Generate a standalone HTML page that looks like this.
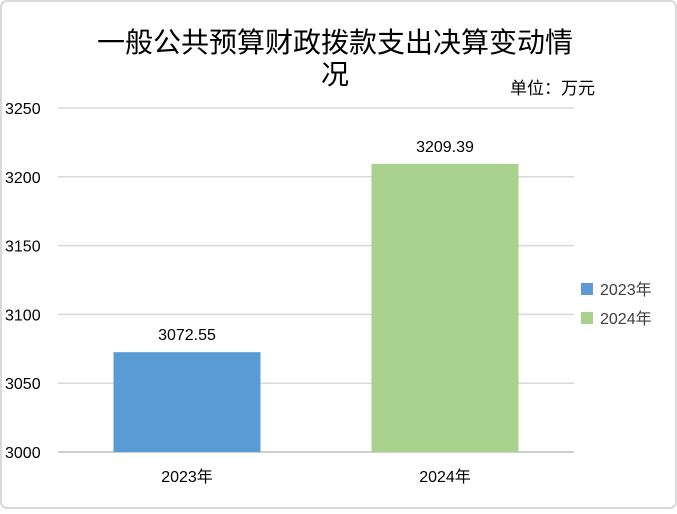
<!DOCTYPE html>
<html><head><meta charset="utf-8"><style>
body{margin:0;background:#fff;}
svg text{font-family:"Liberation Sans","Noto Sans CJK SC",sans-serif;}
</style></head><body>
<svg width="677" height="509" xmlns="http://www.w3.org/2000/svg">
<rect x="1" y="1" width="675" height="507" rx="6" fill="#fff" stroke="#d9d9d9" stroke-width="2"/>
<text x="335" y="52" font-size="28" text-anchor="middle" fill="#000">一般公共预算财政拨款支出决算变动情</text>
<text x="335" y="84" font-size="28" text-anchor="middle" fill="#000">况</text>
<text x="510" y="94" font-size="17" fill="#000">单位：万元</text>
<g id="grid"></g><g id="bars"></g>
<g>
<rect x="581" y="283" width="12" height="12" fill="#5b9bd5"/>
<text x="600" y="295" font-size="16" fill="#404040">2023年</text>
<rect x="581" y="312" width="12" height="12" fill="#a9d18e"/>
<text x="600" y="324" font-size="16" fill="#404040">2024年</text>
</g>
</svg>
<script>
const categories=["2023年","2024年"];
const values=[3072.55,3209.39];
const labels=["3072.55","3209.39"];
const ticks=[3000,3050,3100,3150,3200,3250];
const colors=["#5b9bd5","#a9d18e"];
const NS="http://www.w3.org/2000/svg";
const x0=58,x1=574,yTop=108,yBot=452,vmin=3000,vmax=3250;
const y=v=>yBot-(v-vmin)/(vmax-vmin)*(yBot-yTop);
const band=(x1-x0)/categories.length, bw=147;
const g=document.getElementById('grid'), b=document.getElementById('bars');
function mk(tag,attrs,parent,text){const e=document.createElementNS(NS,tag);for(const k in attrs)e.setAttribute(k,attrs[k]);if(text!==undefined)e.textContent=text;parent.appendChild(e);return e;}
ticks.forEach(t=>{
 const l=mk('line',{x1:x0,x2:x1,y1:y(t),y2:y(t),stroke:t===vmin?'#bfbfbf':'#d9d9d9','stroke-width':1.5},g);
 
 
 const tx=mk('text',{x:5,y:y(t)+6,'font-size':16,fill:'#000'},g,String(t));
 
 
});
categories.forEach((c,i)=>{
 const cx=x0+band*(i+0.5);
 const r=mk('rect',{x:cx-bw/2,y:y(values[i]),width:bw,height:yBot-y(values[i]),fill:colors[i]},b);
 
 
 const v=mk('text',{x:cx,y:y(values[i])-12,'font-size':16,'text-anchor':'middle',fill:'#000'},b,labels[i]);
 
 
 const xl=mk('text',{x:cx,y:482,'font-size':16,'text-anchor':'middle',fill:'#000'},b,c);
 
 
});
</script>
</body></html>
